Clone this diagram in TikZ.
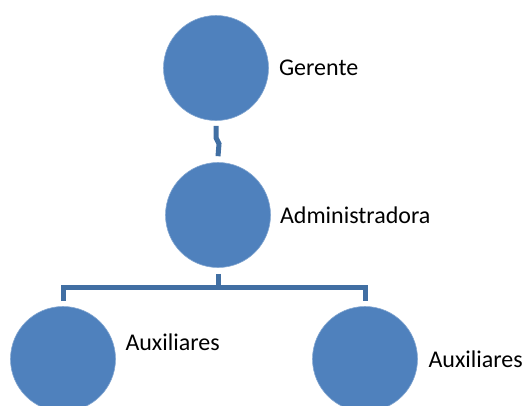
\documentclass[tikz,border=0pt]{standalone}
\usepackage{fontspec}
\setmainfont{Carlito}
\usetikzlibrary{positioning}
\definecolor{circblue}{HTML}{4F81BD}
\definecolor{linkblue}{HTML}{416FA3}

\begin{document}
\begin{tikzpicture}[
  x=1pt, y=-1pt,
  person/.style={circle, fill=circblue, draw=circblue!70!white, line width=0.6pt, minimum size=105pt, inner sep=0pt},
  lbl/.style={anchor=west, inner sep=0pt, font=\fontsize{24}{28}\selectfont},
  link/.style={draw=linkblue, line width=5pt},
]
  \useasboundingbox (0,0) rectangle (529,405);

  % Circles
  \node[person] (ger) at (216,68) {};
  \node[person] (adm) at (218,215) {};
  \node[person] (aux1) at (63,359) {};
  \node[person] (aux2) at (365,359) {};

  % Labels
  \node[lbl, right=10pt of ger] (lger) {Gerente};
  \node[lbl, right=9pt of adm] (ladm) {Administradora};
  \node[lbl, right=9.5pt of aux1, yshift=17pt] (laux1) {Auxiliares};
  \node[lbl, right=10.5pt of aux2] (laux2) {Auxiliares};

  % Connectors
  \draw[link] ([yshift=-5pt]ger.south) -- ++(0,12) -- ++(3,6) -- ([yshift=6pt]adm.north);
  \draw[link] ([yshift=-6pt]adm.south) -- ++(0,14) coordinate (mid);
  \draw[link] ([yshift=5pt]aux1.north) |- (mid) -| ([yshift=5pt]aux2.north);
\end{tikzpicture}
\end{document}
